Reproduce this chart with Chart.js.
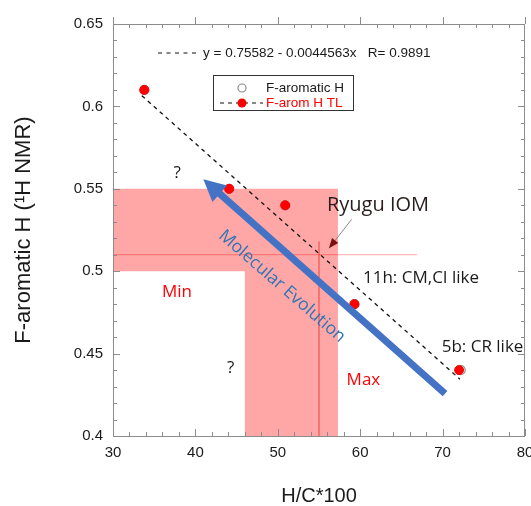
<!DOCTYPE html>
<html>
<head>
<meta charset="utf-8">
<script src="https://cdn.jsdelivr.net/npm/chart.js@4.4.0/dist/chart.umd.min.js"></script>
<style>
  html, body { margin: 0; padding: 0; background: #fff; }
  #wrap { width: 531px; height: 506px; }
</style>
</head>
<body>
<div id="wrap"><canvas id="chart" width="531" height="506"></canvas></div>
<script>
// valori
const hcRed = [33.8, 44.1, 50.9, 59.3, 72.0];
const farRed = [0.61, 0.55, 0.54, 0.48, 0.44];
const hcOpen = [33.8, 44.1, 50.9, 59.3, 72.2];
const farOpen = [0.61, 0.55, 0.54, 0.48, 0.44];
const trendX = [33.5, 72.1];
const trendY = [0.6065, 0.4345];
const xTicks = [30, 40, 50, 60, 70, 80];
const yTicks = [0.4, 0.45, 0.5, 0.55, 0.6, 0.65];

// zona rosa (Min / Max) e Ryugu IOM
const pinkX = [30, 57.3, 57.3, 46, 46, 30];
const pinkY = [0.55, 0.55, 0.4, 0.4, 0.5, 0.5];
const ryuguHX = [30, 66.9];
const ryuguHY = [0.51, 0.51];
const ryuguVX = [55, 55];
const ryuguVY = [0.4, 0.518];

const axisFont = "'Liberation Sans', Arial, sans-serif";
const noteFont = "'Open Sans', 'Noto Sans', sans-serif";

function pts(xs, ys) {
  return xs.map((v, i) => ({ x: v, y: ys[i] }));
}

function arrowHead(ctx, x1, y1, x2, y2, len, half) {
  const a = Math.atan2(y2 - y1, x2 - x1);
  ctx.beginPath();
  ctx.moveTo(x2, y2);
  ctx.lineTo(x2 - len * Math.cos(a) + half * Math.sin(a), y2 - len * Math.sin(a) - half * Math.cos(a));
  ctx.lineTo(x2 - len * Math.cos(a) - half * Math.sin(a), y2 - len * Math.sin(a) + half * Math.cos(a));
  ctx.closePath();
  ctx.fill();
}

const notes = {
  id: "notes",
  beforeDatasetsDraw(chart) {
    const { ctx, scales: { x, y } } = chart;
    ctx.save();
    ctx.fillStyle = "rgba(255,0,0,0.35)";
    ctx.beginPath();
    pinkX.forEach((v, i) => {
      const px = x.getPixelForValue(v), py = y.getPixelForValue(pinkY[i]);
      if (i === 0) ctx.moveTo(px, py); else ctx.lineTo(px, py);
    });
    ctx.closePath();
    ctx.fill();
    ctx.restore();
  },
  afterDatasetsDraw(chart) {
    const { ctx, chartArea: ca, scales: { x, y } } = chart;
    const X = (v) => x.getPixelForValue(v);
    const Y = (v) => y.getPixelForValue(v);
    ctx.save();

    // freccia blu
    const tail = [X(70.3), Y(0.4257)], tip = [X(40.96), Y(0.5558)];
    const ang = Math.atan2(tip[1] - tail[1], tip[0] - tail[0]);
    ctx.strokeStyle = "#4472C4";
    ctx.fillStyle = "#4472C4";
    ctx.lineWidth = 7;
    ctx.beginPath();
    ctx.moveTo(tail[0], tail[1]);
    ctx.lineTo(tip[0] - 18 * Math.cos(ang), tip[1] - 18 * Math.sin(ang));
    ctx.stroke();
    arrowHead(ctx, tail[0], tail[1], tip[0], tip[1], 22, 11);

    // freccia Ryugu IOM
    const s = [X(58.97), Y(0.5315)], e = [X(56.21), Y(0.5139)];
    ctx.strokeStyle = "#8a8a8a";
    ctx.lineWidth = 1;
    ctx.beginPath();
    ctx.moveTo(s[0], s[1]);
    ctx.lineTo(e[0], e[1]);
    ctx.stroke();
    ctx.fillStyle = "#7a1010";
    arrowHead(ctx, s[0], s[1], e[0], e[1], 10, 4);

    // testi
    ctx.textBaseline = "middle";
    ctx.textAlign = "left";
    ctx.fillStyle = "#2a1c1c";
    ctx.font = "20px " + noteFont;
    ctx.fillText("Ryugu IOM", X(55.97), Y(0.54));
    ctx.fillStyle = "#1a1a1a";
    ctx.font = "17px " + noteFont;
    ctx.fillText("11h: CM,CI like", X(60.34), Y(0.4957));
    ctx.fillText("5b: CR like", X(69.89), Y(0.454));
    ctx.textAlign = "center";
    ctx.fillText("?", X(37.8), Y(0.5592));
    ctx.fillText("?", X(44.28), Y(0.4409));
    ctx.fillStyle = "#ff0000";
    ctx.fillText("Min", X(37.77), Y(0.4874));
    ctx.textAlign = "left";
    ctx.fillText("Max", X(58.35), Y(0.4338));

    ctx.save();
    ctx.translate(X(50.51), Y(0.4908));
    ctx.rotate(41 * Math.PI / 180);
    ctx.textAlign = "center";
    ctx.fillStyle = "#2E75B6";
    ctx.font = "17.5px " + noteFont;
    ctx.fillText("Molecular Evolution", 0, 0);
    ctx.restore();

    // equazione
    ctx.strokeStyle = "#111";
    ctx.lineWidth = 1.2;
    ctx.setLineDash([4, 4.5]);
    ctx.beginPath();
    ctx.moveTo(ca.left + 45, ca.top + 29);
    ctx.lineTo(ca.left + 85, ca.top + 29);
    ctx.stroke();
    ctx.setLineDash([]);
    ctx.fillStyle = "#1a1a1a";
    ctx.font = "13.5px " + axisFont;
    ctx.textAlign = "left";
    ctx.fillText("y = 0.75582 - 0.0044563x   R= 0.9891", ca.left + 90, ca.top + 29);

    // legenda
    const lx = ca.left + 100, ly = ca.top + 51;
    ctx.strokeStyle = "#333";
    ctx.lineWidth = 1;
    ctx.strokeRect(lx + 0.5, ly + 0.5, 140, 35);
    ctx.strokeStyle = "#8a8a8a";
    ctx.lineWidth = 1.2;
    ctx.beginPath();
    ctx.arc(lx + 29, ly + 13, 4, 0, Math.PI * 2);
    ctx.stroke();
    ctx.strokeStyle = "#111";
    ctx.setLineDash([4, 4]);
    ctx.beginPath();
    ctx.moveTo(lx + 7, ly + 28);
    ctx.lineTo(lx + 50, ly + 28);
    ctx.stroke();
    ctx.setLineDash([]);
    ctx.fillStyle = "#ff0000";
    ctx.beginPath();
    ctx.arc(lx + 29, ly + 28, 4.5, 0, Math.PI * 2);
    ctx.fill();
    ctx.fillStyle = "#1a1a1a";
    ctx.fillText("F-aromatic H", lx + 53, ly + 13);
    ctx.fillStyle = "#ff0000";
    ctx.fillText("F-arom H TL", lx + 53, ly + 28);

    // cornice e tacche
    ctx.strokeStyle = "#8c8c8c";
    ctx.lineWidth = 1;
    ctx.strokeRect(ca.left + 0.5, ca.top + 0.5, ca.right - ca.left - 1, ca.bottom - ca.top);
    ctx.beginPath();
    for (let v = 30; v <= 80; v += 2) {
      const px = Math.round(X(v)) + 0.5;
      const major = v % 10 === 0;
      const l = major ? 7 : 4;
      ctx.moveTo(px, ca.bottom);
      ctx.lineTo(px, ca.bottom - l);
      if (major) {
        ctx.moveTo(px, ca.top);
        ctx.lineTo(px, ca.top - 7);
      } else {
        ctx.moveTo(px, ca.top);
        ctx.lineTo(px, ca.top + 4);
      }
    }
    for (let k = 40; k <= 65; k++) {
      const py = Math.round(Y(k / 100)) + 0.5;
      const l = k % 5 === 0 ? 7 : 4;
      ctx.moveTo(ca.left, py);
      ctx.lineTo(ca.left + l, py);
      ctx.moveTo(ca.right, py);
      ctx.lineTo(ca.right - l, py);
    }
    ctx.stroke();
    ctx.restore();
  }
};

new Chart(document.getElementById("chart").getContext("2d"), {
  type: "scatter",
  data: {
    datasets: [
      {
        label: "F-arom H TL",
        data: pts(hcRed, farRed),
        backgroundColor: "#ff0000",
        borderColor: "#ff0000",
        pointRadius: 4.5,
        showLine: false,
      },
      {
        label: "F-aromatic H",
        data: pts(hcOpen, farOpen),
        backgroundColor: "#ffffff",
        borderColor: "#8a8a8a",
        borderWidth: 1.2,
        pointRadius: 4.5,
        showLine: false,
      },
      {
        label: "trend",
        data: pts(trendX, trendY),
        showLine: true,
        borderColor: "#111",
        borderWidth: 1.3,
        borderDash: [4, 4],
        pointRadius: 0,
      },
      {
        label: "ryuguH",
        data: pts(ryuguHX, ryuguHY),
        showLine: true,
        borderColor: "rgba(255,0,0,0.35)",
        borderWidth: 1,
        pointRadius: 0,
      },
      {
        label: "ryuguV",
        data: pts(ryuguVX, ryuguVY),
        showLine: true,
        borderColor: "rgba(220,0,0,0.6)",
        borderWidth: 1,
        pointRadius: 0,
      },
    ],
  },
  options: {
    responsive: false,
    animation: false,
    layout: { padding: { top: 24, right: 6, left: 0, bottom: 0 } },
    plugins: { legend: { display: false }, tooltip: { enabled: false } },
    scales: {
      x: {
        type: "linear",
        min: 30,
        max: 80,
        afterBuildTicks: (s) => { s.ticks = xTicks.map((v) => ({ value: v })); },
        afterFit: (s) => { s.height = 70; s.paddingLeft = 0; s.paddingRight = 0; },
        grid: { display: false, drawTicks: false },
        border: { display: false },
        ticks: { padding: 8, color: "#1a1a1a", font: { family: axisFont, size: 15 }, maxRotation: 0 },
        title: {
          display: true,
          text: "H/C*100",
          color: "#1a1a1a",
          font: { family: axisFont, size: 20, lineHeight: 1 },
          padding: { top: 0, bottom: 0 },
        },
      },
      y: {
        type: "linear",
        min: 0.4,
        max: 0.65,
        afterBuildTicks: (s) => { s.ticks = yTicks.map((v) => ({ value: v })); },
        afterFit: (s) => { s.width = 113; s.paddingTop = 0; s.paddingBottom = 0; },
        grid: { display: false, drawTicks: false },
        border: { display: false },
        ticks: {
          padding: 10,
          color: "#1a1a1a",
          font: { family: axisFont, size: 15 },
          callback: (v) => String(+v.toFixed(2)),
        },
        title: {
          display: true,
          text: "F-aromatic H (\u00b9H NMR)",
          color: "#1a1a1a",
          font: { family: axisFont, size: 22, lineHeight: 1 },
          padding: { top: 13, bottom: 0 },
        },
      },
    },
  },
  plugins: [notes],
});
</script>
</body>
</html>
